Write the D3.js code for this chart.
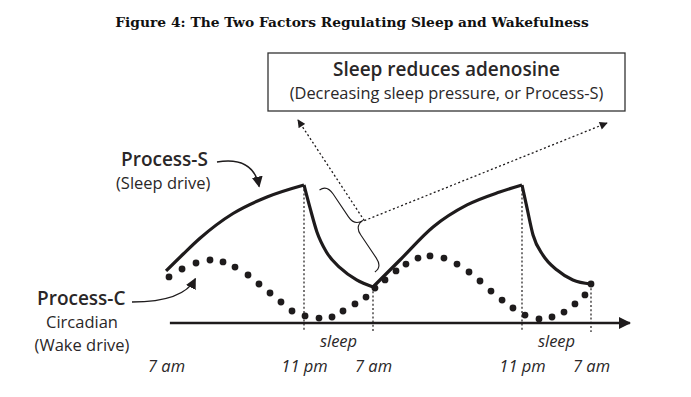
<!DOCTYPE html>
<html><head><meta charset="utf-8">
<script src="https://cdn.jsdelivr.net/npm/d3@7"></script>
<style>
html,body{margin:0;padding:0;background:#fff;}
svg{display:block;}
</style></head><body>
<svg id="chart" width="691" height="397"></svg>
<script>
// ---------- data ----------
const titleText = "Figure 4: The Two Factors Regulating Sleep and Wakefulness";
const tickHours = [0, 16, 24, 40, 48];
const tickLabels = ["7 am", "11 pm", "7 am", "11 pm", "7 am"];
const sleepStarts = [16, 40];
const sleepEnds = [24, 48];
const sleepLabel = "sleep";

// Process-C (circadian) dots: hours since 7 am, level
const circHours = [0.35,1.86,3.48,5.10,6.61,8.0,9.51,10.78,12.06,13.33,14.61,16.12,17.74,19.25,20.52,21.91,23.19,24.21,25.29,26.47,27.54,28.83,30.12,31.62,33.02,34.31,35.49,36.67,37.86,39.03,40.35,41.97,43.48,44.87,46.14,47.30,48.0];
const circValues = [30.7,36,40,42,40.7,37.3,32,26,20,14,8,4.7,3.3,4,8,12.7,17.3,23.3,28.7,34.7,39.3,43.3,44.7,43.3,39.3,34,28,21.3,15.3,10,5.3,2.7,4,7.3,12.7,18.7,26];

// Process-S (sleep drive) segments
const sWake1Hours = [0, 2.0, 3.94, 7.77, 11.71, 16];
const sWake1Values = [34.7, 46, 56.5, 73, 84, 92];
const sSleep1Hours = [16, 16.7, 17.5, 18.6, 20.2, 22.1, 24];
const sSleep1Values = [92, 76.7, 60.7, 47.3, 36.7, 28.7, 24];
const sWake2Hours = [24, 26.9, 30.45, 34.1, 37.6, 40];
const sWake2Values = [24, 42, 64, 78.7, 87.3, 92];
const sSleep2Hours = [40, 40.58, 41.28, 42.43, 44.06, 45.9, 48];
const sSleep2Values = [92, 76.7, 58.7, 45.3, 35.3, 28.7, 26];

const boxTitle = "Sleep reduces adenosine";
const boxSub = "(Decreasing sleep pressure, or Process-S)";
const sLabel = "Process-S", sSub = "(Sleep drive)";
const cLabel = "Process-C", cSub1 = "Circadian", cSub2 = "(Wake drive)";

// ---------- drawing ----------
const ink = "#1e1b1c";
const textInk = "#2a2728";
const svg = d3.select("#chart");

const xScale = d3.scaleLinear().domain([0, 16, 24, 40, 48]).range([166, 304, 373, 522, 591]);
const yScale = d3.scaleLinear().domain([0, 100]).range([323, 173]);

const defs = svg.append("defs");
function marker(id, w, h) {
  defs.append("marker").attr("id", id)
    .attr("viewBox", "0 0 10 10").attr("refX", 9).attr("refY", 5)
    .attr("markerWidth", w).attr("markerHeight", h)
    .attr("markerUnits", "userSpaceOnUse")
    .attr("orient", "auto")
    .append("path").attr("d", "M0,0 L10,5 L0,10 Z").attr("fill", ink);
}
marker("axisArrow", 14, 12);
marker("smallArrow", 9, 8);
marker("labelArrow", 11, 11);

// title
svg.append("text").attr("x", 352).attr("y", 27)
  .attr("text-anchor", "middle")
  .attr("font-family", "'DejaVu Serif', serif").attr("font-weight", "bold")
  .attr("font-size", 13.8).attr("fill", "#111")
  .text(titleText);

// axis line with arrow
const y0 = yScale(0);
svg.append("line")
  .attr("x1", xScale(0.45)).attr("x2", xScale(52.5))
  .attr("y1", y0).attr("y2", y0)
  .attr("stroke", ink).attr("stroke-width", 2.6)
  .attr("marker-end", "url(#axisArrow)");

// axis labels via d3 axis
const axisG = svg.append("g").attr("transform", `translate(0,${y0})`)
  .call(d3.axisBottom(xScale).tickValues(tickHours)
        .tickFormat((d, i) => tickLabels[i]).tickSize(0).tickPadding(37));
axisG.select(".domain").remove();
axisG.selectAll("text")
  .attr("font-family", "'Open Sans', sans-serif")
  .attr("font-style", "italic").attr("font-size", 16.5).attr("fill", textInk);

// segments
const segHours = [sWake1Hours, sSleep1Hours, sWake2Hours, sSleep2Hours];
const segValues = [sWake1Values, sSleep1Values, sWake2Values, sSleep2Values];
const segments = segHours.map((hs, i) => hs.map((h, j) => [h, segValues[i][j]]));

// vertical dotted lines at sleep boundaries
function sAt(h) {
  for (const seg of segments) for (const p of seg) if (p[0] === h) return p[1];
  return 0;
}
const boundaries = sleepStarts.concat(sleepEnds);
svg.append("g").selectAll("line").data(boundaries).join("line")
  .attr("x1", d => xScale(d)).attr("x2", d => xScale(d))
  .attr("y1", d => yScale(sAt(d))).attr("y2", y0 + 9)
  .attr("stroke", ink).attr("stroke-width", 1.2)
  .attr("stroke-dasharray", "2,2.2");

// sleep labels
svg.append("g").selectAll("text").data(sleepStarts).join("text")
  .attr("x", (d, i) => xScale((d + sleepEnds[i]) / 2))
  .attr("y", y0 + 24)
  .attr("text-anchor", "middle")
  .attr("font-family", "'Open Sans', sans-serif")
  .attr("font-style", "italic").attr("font-size", 16.5).attr("fill", textInk)
  .text(sleepLabel);

// Process-S line
const line = d3.line().x(d => xScale(d[0])).y(d => yScale(d[1])).curve(d3.curveMonotoneX);
svg.append("g").selectAll("path").data(segments).join("path")
  .attr("d", line).attr("fill", "none")
  .attr("stroke", ink).attr("stroke-width", 3.2)
  .attr("stroke-linejoin", "miter").attr("stroke-linecap", "butt");

// Process-C dots
svg.append("g").selectAll("circle").data(circHours).join("circle")
  .attr("cx", d => xScale(d)).attr("cy", (d, i) => yScale(circValues[i]))
  .attr("r", 3.4).attr("fill", ink);

// brace along first sleep decay
const b0 = [xScale(17.8), yScale(88.7)];
const b1 = [xScale(24.2), yScale(34)];
const bl = Math.hypot(b1[0] - b0[0], b1[1] - b0[1]);
const u = [(b1[0] - b0[0]) / bl, (b1[1] - b0[1]) / bl];
const nv = [u[1], -u[0]];
const P = (s, t) => [b0[0] + u[0] * s + nv[0] * t, b0[1] + u[1] * s + nv[1] * t];
const bh = 9, bw = 19, ba = 11;
const braceD = `M${P(0,0)} Q${P(0,bh)} ${P(ba,bh)} L${P(bl/2-ba,bh)} Q${P(bl/2,bh)} ${P(bl/2,bw)} Q${P(bl/2,bh)} ${P(bl/2+ba,bh)} L${P(bl-ba,bh)} Q${P(bl,bh)} ${P(bl,0)}`;
svg.append("path").attr("d", braceD).attr("fill", "none")
  .attr("stroke", ink).attr("stroke-width", 1.1);

// annotation box
const box = { x: 268, y: 53, w: 357, h: 58 };
svg.append("rect").attr("x", box.x).attr("y", box.y).attr("width", box.w).attr("height", box.h)
  .attr("fill", "#fff").attr("stroke", "#333").attr("stroke-width", 1.3);
svg.append("text").attr("x", box.x + box.w / 2).attr("y", box.y + 23)
  .attr("text-anchor", "middle").attr("font-family", "'Open Sans', sans-serif")
  .attr("font-weight", 600).attr("font-size", 19).attr("fill", textInk).text(boxTitle);
svg.append("text").attr("x", box.x + box.w / 2).attr("y", box.y + 46)
  .attr("text-anchor", "middle").attr("font-family", "'Open Sans', sans-serif")
  .attr("font-size", 16.4).attr("fill", textInk).text(boxSub);

// dotted arrows from brace tip to box
const tip = P(bl / 2 + 1, bw + 1);
const arrowTargets = [[box.x + 30, box.y + box.h + 9], [box.x + box.w - 18, box.y + box.h + 12]];
svg.append("g").selectAll("line").data(arrowTargets).join("line")
  .attr("x1", tip[0]).attr("y1", tip[1])
  .attr("x2", d => d[0]).attr("y2", d => d[1])
  .attr("stroke", ink).attr("stroke-width", 1.3)
  .attr("stroke-dasharray", "2,2.4")
  .attr("marker-end", "url(#smallArrow)");

// Process-S label
svg.append("text").attr("x", 121).attr("y", 166)
  .attr("font-family", "'Open Sans', sans-serif").attr("font-weight", 600)
  .attr("font-size", 19).attr("fill", textInk).text(sLabel);
svg.append("text").attr("x", 116).attr("y", 189)
  .attr("font-family", "'Open Sans', sans-serif")
  .attr("font-size", 16.5).attr("fill", textInk).text(sSub);
const sArrEnd = [xScale(10.8), yScale(91)];
svg.append("path")
  .attr("d", `M217,162 Q${sArrEnd[0] - 6},156 ${sArrEnd[0]},${sArrEnd[1]}`)
  .attr("fill", "none").attr("stroke", ink).attr("stroke-width", 1.4)
  .attr("marker-end", "url(#labelArrow)");

// Process-C label
svg.append("text").attr("x", 37).attr("y", 305)
  .attr("font-family", "'Open Sans', sans-serif").attr("font-weight", 600)
  .attr("font-size", 19).attr("fill", textInk).text(cLabel);
svg.append("text").attr("x", 82).attr("y", 328).attr("text-anchor", "middle")
  .attr("font-family", "'Open Sans', sans-serif")
  .attr("font-size", 16.5).attr("fill", textInk).text(cSub1);
svg.append("text").attr("x", 82).attr("y", 351).attr("text-anchor", "middle")
  .attr("font-family", "'Open Sans', sans-serif")
  .attr("font-size", 16.5).attr("fill", textInk).text(cSub2);
const cArrEnd = [xScale(3.4), yScale(29.5)];
svg.append("path")
  .attr("d", `M132,302 Q${cArrEnd[0] - 12},302 ${cArrEnd[0]},${cArrEnd[1]}`)
  .attr("fill", "none").attr("stroke", ink).attr("stroke-width", 1.4)
  .attr("marker-end", "url(#labelArrow)");
</script>
</body></html>
